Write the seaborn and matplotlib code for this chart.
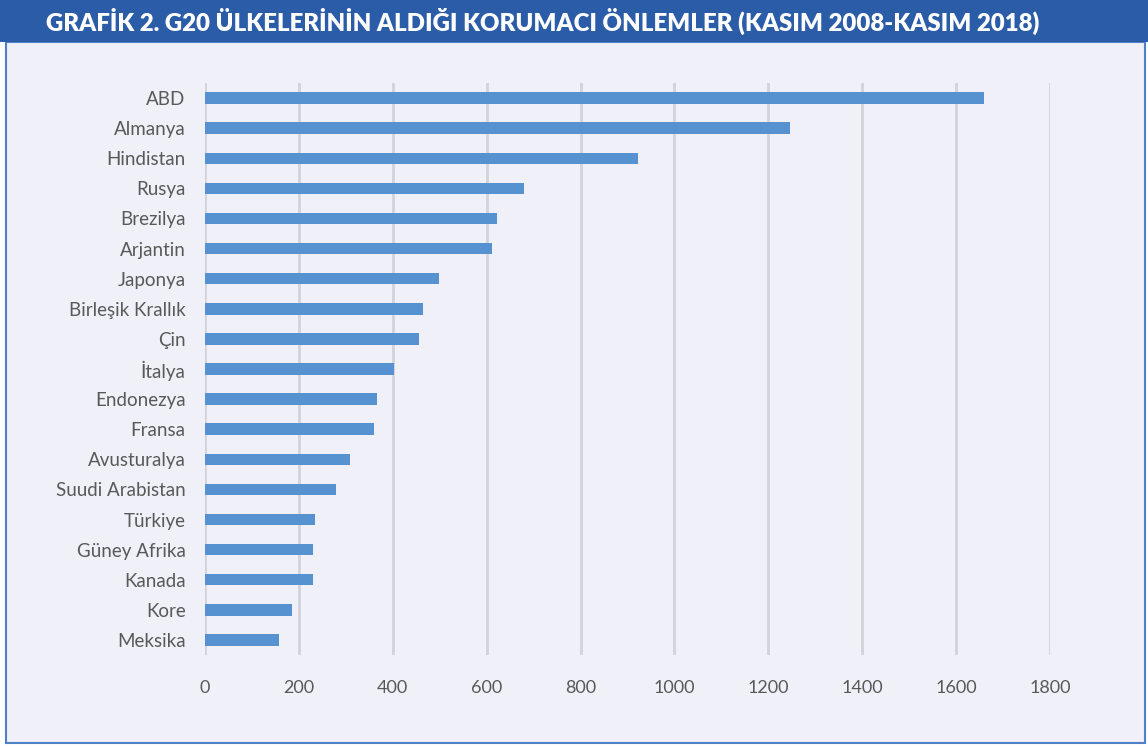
import pandas as pd
import matplotlib.pyplot as plt
import seaborn as sns
from matplotlib.patches import Rectangle

countries = ['ABD', 'Almanya', 'Hindistan', 'Rusya', 'Brezilya', 'Arjantin', 'Japonya',
             'Birleşik Krallık', 'Çin', 'İtalya', 'Endonezya', 'Fransa', 'Avusturalya',
             'Suudi Arabistan', 'Türkiye', 'Güney Afrika', 'Kanada', 'Kore', 'Meksika']
measures = [1660, 1246, 922, 679, 623, 612, 498, 465, 455, 402, 367, 361, 308,
            279, 235, 231, 231, 186, 158]
xticks = [0, 200, 400, 600, 800, 1000, 1200, 1400, 1600, 1800]

df = pd.DataFrame({'country': countries, 'measures': measures})

sns.set_style('white')
plt.rcParams['font.family'] = ['Lato', 'DejaVu Sans']

bg = '#eff0f8'
fig = plt.figure(figsize=(11.48, 7.47), dpi=100, facecolor='white')

# panel frame and title banner
fig.patches.append(Rectangle((6 / 1148, 1 - 743 / 747), 1139 / 1148, 701 / 747,
                             transform=fig.transFigure, facecolor=bg,
                             edgecolor='#4f7fc6', lw=1.5, zorder=-2))
fig.patches.append(Rectangle((0, 1 - 42 / 747), 1, 42 / 747, transform=fig.transFigure,
                             facecolor='#2b5ca8', edgecolor='none', zorder=-1))
fig.text(0.473, 1 - 21 / 747, 'GRAFİK 2. G20 ÜLKELERİNİN ALDIĞI KORUMACI ÖNLEMLER (KASIM 2008-KASIM 2018)',
         color='white', fontsize=17.3, fontweight='heavy', ha='center', va='center')

ax = fig.add_axes([205 / 1148, 1 - 655 / 747, 845 / 1148, 572 / 747])
ax.set_zorder(2)
ax.set_facecolor(bg)
sns.barplot(data=df, x='measures', y='country', orient='h', color='#5592cf',
            width=0.38, saturation=1, linewidth=0, ax=ax, zorder=3)

ax.set_xlim(0, 1800)
ax.set_ylim(len(countries) - 0.5, -0.5)
ax.set_xticks(xticks)
ax.grid(axis='x', color='#d2d3d8', lw=2, zorder=0)
ax.set_axisbelow(True)
for s in ax.spines.values():
    s.set_visible(False)
ax.set_xlabel('')
ax.set_ylabel('')
ax.tick_params(axis='x', length=0, pad=18, labelsize=13, labelcolor='#595959')
ax.tick_params(axis='y', length=0, pad=14, labelsize=13.5, labelcolor='#595959')

fig.savefig('out.png', dpi=100, facecolor=fig.get_facecolor())
